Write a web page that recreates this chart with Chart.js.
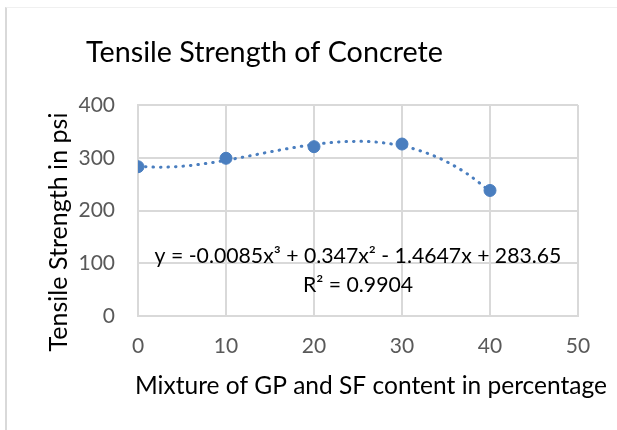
<!DOCTYPE html>
<html>
<head>
<meta charset="utf-8">
<script src="https://cdn.jsdelivr.net/npm/chart.js@4/dist/chart.umd.min.js"></script>
<style>
  html, body { margin: 0; padding: 0; background: #fff; }
  #wrap { position: relative; width: 617px; height: 430px; overflow: hidden; }
  #frame { position: absolute; left: 5px; top: 7px; width: 700px; height: 500px;
           border-left: 2px solid #d9d9d9; border-top: 1px solid #f0f0f0; }
  #c { position: absolute; left: 0; top: 0; }
</style>
</head>
<body>
<div id="wrap">
  <div id="frame"></div>
  <canvas id="c" width="617" height="430"></canvas>
</div>
<script>
// Observed data points
const mixturePct = [0, 10, 20, 30, 40];
const tensileStrength = [283, 299, 321, 326, 238];

// Dotted polynomial trendline
const trendX = [0, 2.5, 5, 7.5, 10, 12.5, 15, 17.5, 20, 22.5, 25, 27.5, 30, 32.5, 35, 37.5, 40];
const trendY = [283.6, 282, 283.9, 288.6, 295.2, 303, 311.1, 318.7, 325.2, 329.5, 331.1, 329, 322.5, 310.8, 293.1, 268.5, 236.3];

// Tick values
const xTicks = [0, 10, 20, 30, 40, 50];
const yTicks = [0, 100, 200, 300, 400];

const titleText = 'Tensile Strength of Concrete';
const xTitle = 'Mixture of GP and SF content in percentage';
const yTitle = 'Tensile Strength in psi';
const eqLine1 = 'y = -0.0085x\u00B3 + 0.347x\u00B2 - 1.4647x + 283.65';
const eqLine2 = 'R\u00B2 = 0.9904';

const FONT = "Lato, 'Open Sans', sans-serif";
const BLUE = '#4a7ebf';

const pointsData = mixturePct.map((x, i) => ({ x: x, y: tensileStrength[i] }));
const trendData = trendX.map((x, i) => ({ x: x, y: trendY[i] }));

// choose a font size so the text spans the given width
function fitFont(ctx, text, width) {
  ctx.font = '20px ' + FONT;
  const w = ctx.measureText(text).width;
  const size = 20 * width / w;
  return size.toFixed(2) + 'px ' + FONT;
}

const textPlugin = {
  id: 'textPlugin',
  afterDraw(chart) {
    const ctx = chart.ctx;
    ctx.save();
    ctx.fillStyle = '#000';
    ctx.textAlign = 'center';
    ctx.textBaseline = 'alphabetic';
    // chart title
    ctx.font = fitFont(ctx, titleText, 357);
    ctx.fillText(titleText, 264.5, 62);
    // trendline label
    const eqFont = fitFont(ctx, eqLine1, 407);
    ctx.font = eqFont;
    ctx.fillText(eqLine1, 358, 263);
    ctx.fillText(eqLine2, 358, 292);
    // x axis title
    ctx.textBaseline = 'middle';
    ctx.font = fitFont(ctx, xTitle, 472);
    ctx.fillText(xTitle, 371, 386);
    // y axis title
    ctx.font = fitFont(ctx, yTitle, 239);
    ctx.translate(59, 232);
    ctx.rotate(-Math.PI / 2);
    ctx.fillText(yTitle, 0, 0);
    ctx.restore();
  }
};

new Chart(document.getElementById('c'), {
  type: 'scatter',
  data: {
    datasets: [
      {
        label: 'Tensile Strength',
        data: pointsData,
        backgroundColor: BLUE,
        borderColor: BLUE,
        pointRadius: 6,
        pointHoverRadius: 6,
        showLine: false,
        order: 1
      },
      {
        label: 'Poly. trend',
        type: 'line',
        data: trendData,
        borderColor: BLUE,
        borderWidth: 3,
        borderDash: [0.5, 7],
        borderCapStyle: 'round',
        pointRadius: 0,
        fill: false,
        tension: 0.4,
        cubicInterpolationMode: 'monotone',
        order: 2
      }
    ]
  },
  options: {
    responsive: false,
    animation: false,
    events: [],
    layout: { padding: { left: 0, right: 39, top: 105, bottom: 0 } },
    plugins: {
      legend: { display: false },
      title: { display: false },
      tooltip: { enabled: false }
    },
    scales: {
      x: {
        type: 'linear',
        min: 0, max: 50,
        afterBuildTicks(scale) { scale.ticks = xTicks.map(v => ({ value: v })); },
        afterFit(scale) { scale.height = 114; },
        grid: { color: '#d9d9d9', lineWidth: 2, drawTicks: false },
        border: { display: true, color: '#d9d9d9', width: 2 },
        ticks: { padding: 18, color: '#595959', font: { family: FONT, size: 21 } },
        title: { display: false }
      },
      y: {
        type: 'linear',
        min: 0, max: 400,
        afterBuildTicks(scale) { scale.ticks = yTicks.map(v => ({ value: v })); },
        afterFit(scale) { scale.width = 138; },
        grid: { color: '#d9d9d9', lineWidth: 2, drawTicks: false },
        border: { display: true, color: '#d9d9d9', width: 2 },
        ticks: { padding: 23, color: '#595959', font: { family: FONT, size: 21 } },
        title: { display: false }
      }
    }
  },
  plugins: [textPlugin]
});
</script>
</body>
</html>
